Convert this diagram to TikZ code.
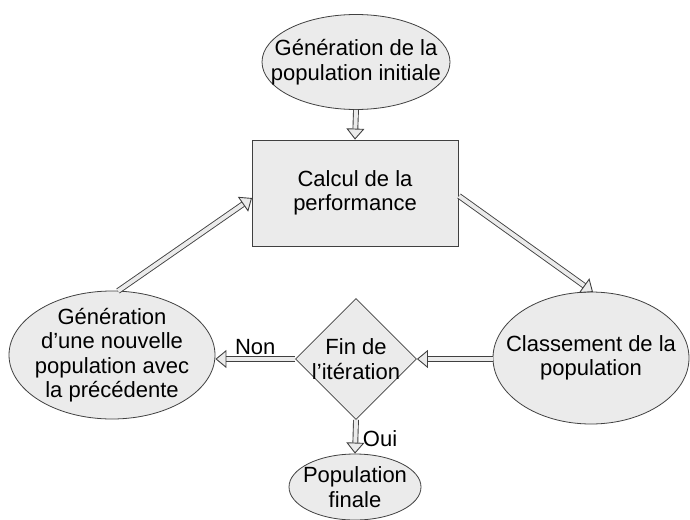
\documentclass[tikz,border=0pt]{standalone}
\usepackage{fontspec}
\setmainfont{Liberation Sans}
\usetikzlibrary{shapes.geometric,arrows.meta}
\definecolor{boxfill}{HTML}{EBEBEB}
\definecolor{edge}{HTML}{404040}
\begin{document}
\begin{tikzpicture}[x=1pt,y=-1pt,
  every node/.style={font=\fontsize{22}{24.5}\selectfont, align=center, inner sep=0pt},
  every label/.style={font=\fontsize{22}{24.5}\selectfont, align=center, inner sep=0pt},
  oval/.style={ellipse, draw=edge, fill=boxfill, line width=0.8pt},
  rectbox/.style={rectangle, draw=edge, fill=boxfill, line width=0.8pt},
  decision/.style={diamond, draw=edge, fill=boxfill, line width=0.8pt, aspect=1},
  flow/.style={draw=edge, line width=0.9pt, double=boxfill, double distance=4pt,
    -{Triangle[open, length=11pt, width=18pt, line width=0.9pt, fill=boxfill]}}
]
\useasboundingbox (0,0) rectangle (690,519);
\node[oval, minimum width=188pt, minimum height=95pt,
  label={center:Génération de la\\population initiale}] (init) at (356,62) {};
\node[rectbox, minimum width=206pt, minimum height=106pt] (calc) at (355,193) {Calcul de la\\performance};
\node[oval, minimum width=206pt, minimum height=128pt,
  label={center:Génération\\d’une nouvelle\\population avec\\la précédente}] (gen) at (112,355) {};
\node[oval, minimum width=196pt, minimum height=132pt,
  label={center:Classement de la\\population}] (class) at (591,358) {};
\node[decision, minimum width=121pt, minimum height=121pt,
  label={center:Fin de\\l’itération}] (fin) at (356,359) {};
\node[oval, minimum width=132pt, minimum height=66pt,
  label={center:Population\\finale}] (final) at (355,487) {};
\coordinate (rs) at (459,196);
\coordinate (re) at (593,292);
\coordinate (ls) at (118,291);
\coordinate (le) at (252,198);
\draw[flow] (init.south) -- (calc.north);
\draw[flow] (rs) -- (re);
\draw[flow] (class.west |- fin.east) -- (fin.east);
\draw[flow] (fin.west) -- node[above=4pt, pos=0.5] {Non} (fin.west -| gen.east);
\draw[flow] (fin.south) -- node[right=7pt, pos=0.55] {Oui} (final.north);
\draw[flow] (ls) -- (le);
\end{tikzpicture}
\end{document}
